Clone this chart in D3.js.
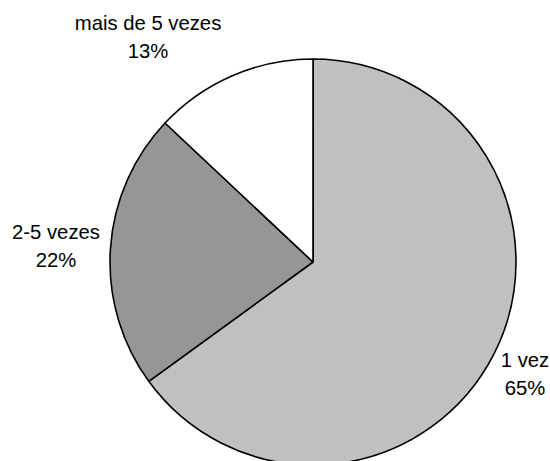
<!DOCTYPE html>
<html>
<head>
<meta charset="utf-8">
<script src="https://cdn.jsdelivr.net/npm/d3@7"></script>
<style>
  body { margin: 0; background: #fff; }
  text { font-family: "Liberation Sans", Arial, sans-serif; fill: #000; }
</style>
</head>
<body>
<div id="chart"></div>
<script>
// Data
const categories = ["1 vez", "2-5 vezes", "mais de 5 vezes"];
const values = [65, 22, 13];
const percentLabels = ["65%", "22%", "13%"];

const w = 550, h = 461;
const cx = 313, cy = 262, r = 203;
const colorArr = ["#c0c0c0", "#969696", "#ffffff"];

// label anchor (center of the two-line block, relative to pie center), set by hand like Excel
const labelPos = [
  {x: 212, y: 112},
  {x: -257, y: -16},
  {x: -165, y: -225}
];

const svg = d3.select("#chart").append("svg").attr("width", w).attr("height", h);

const pie = d3.pie().sort(null).value(d => d.value);
const arc = d3.arc().innerRadius(0).outerRadius(r);
const color = d3.scaleOrdinal().domain(categories).range(colorArr);

const rows = categories.map((c, i) => ({cat: c, value: values[i], pct: percentLabels[i], pos: labelPos[i]}));

const g = svg.append("g").attr("transform", "translate(" + cx + "," + cy + ")");

g.selectAll("path")
  .data(pie(rows))
  .enter()
  .append("path")
  .attr("d", arc)
  .attr("fill", d => color(d.data.cat))
  .attr("stroke", "#000")
  .attr("stroke-width", 1.6)
  .attr("stroke-linejoin", "round");

// Labels
const lab = g.selectAll(".lab")
  .data(rows)
  .enter()
  .append("text")
  .attr("class", "lab")
  .attr("text-anchor", "middle")
  .attr("font-size", 20.3);

lab.append("tspan")
  .attr("x", d => d.pos.x)
  .attr("y", d => d.pos.y - 7)
  .text(d => d.cat);

lab.append("tspan")
  .attr("x", d => d.pos.x)
  .attr("y", d => d.pos.y + 21)
  .text(d => d.pct);
</script>
</body>
</html>
